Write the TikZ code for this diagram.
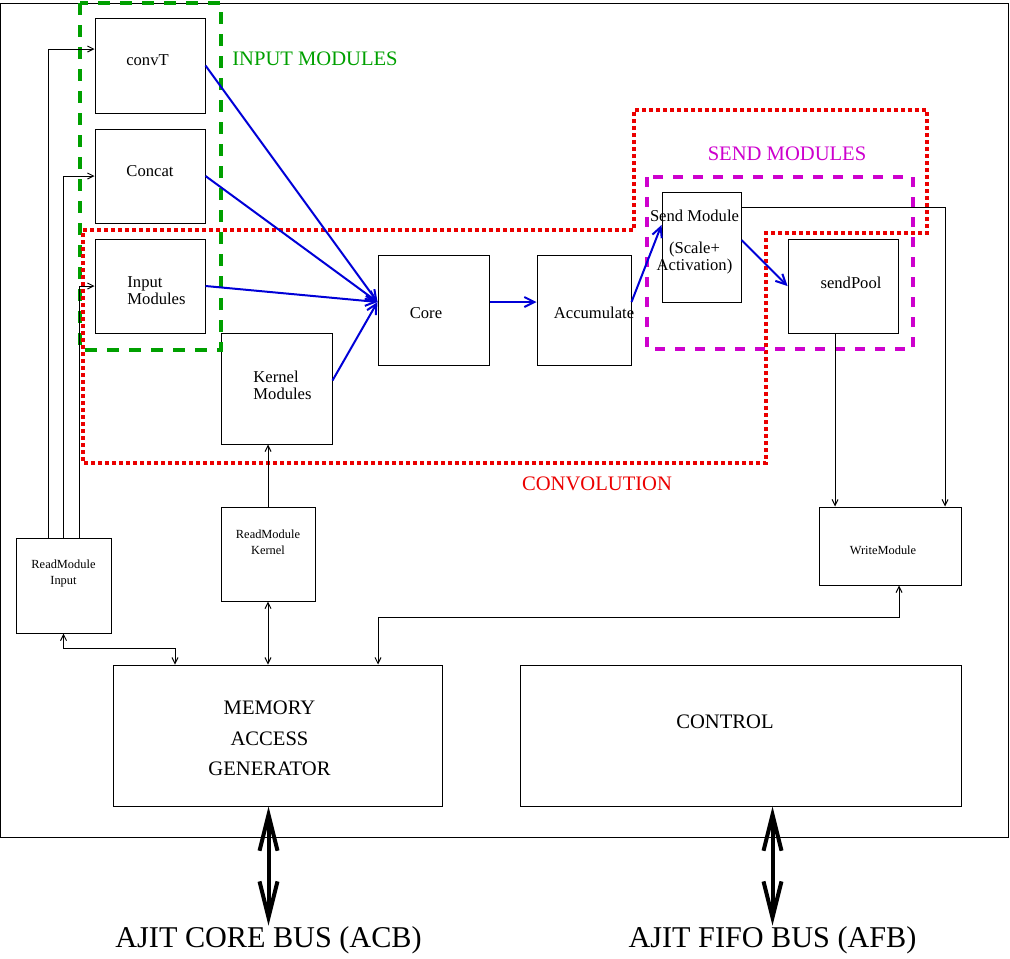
\documentclass[tikz,border=0pt]{standalone}
\usepackage{fontspec}
\setmainfont{Liberation Serif}
\usetikzlibrary{arrows.meta, calc, positioning}
\definecolor{figgreen}{RGB}{0,160,0}
\definecolor{figmag}{RGB}{205,0,205}
\definecolor{figblue}{RGB}{0,0,215}
\definecolor{figred}{RGB}{235,0,0}
\tikzset{
  blk/.style={draw, line width=0.5pt, inner sep=0pt},
  lbl/.style={inner sep=0pt, align=center, font=\fontsize{8.3}{8.5}\selectfont},
  smalllbl/.style={inner sep=0pt, align=center, font=\fontsize{6.2}{8}\selectfont},
  biglbl/.style={inner sep=0pt, align=center, font=\fontsize{10.3}{15.25}\selectfont},
  grplbl/.style={inner sep=0pt, font=\fontsize{10.3}{12}\selectfont},
  buslbl/.style={inner sep=0pt, font=\fontsize{15.1}{18}\selectfont},
  sig/.style={line width=0.5pt, -{Straight Barb[length=3pt,width=3pt]}},
  sigboth/.style={line width=0.5pt, {Straight Barb[length=3pt,width=3pt]}-{Straight Barb[length=3pt,width=3pt]}},
  flow/.style={draw=figblue, line width=1pt, -{Straight Barb[length=5pt,width=5pt]}},
  bus/.style={line width=2pt, {Straight Barb[length=18pt,width=9pt]}-{Straight Barb[length=18pt,width=9pt]}},
  grpgreen/.style={draw=figgreen, line width=2pt, dash pattern=on 6pt off 5pt},
  grpred/.style={draw=figred, line width=2pt, dash pattern=on 2pt off 1.5pt},
  grpmag/.style={draw=figmag, line width=2pt, dash pattern=on 5pt off 5pt}
}
\begin{document}
\begin{tikzpicture}[x=0.5pt,y=-0.5pt]
\useasboundingbox (0,0) rectangle (1010,958);
\draw[line width=0.5pt] (0,3) rectangle (1008,837);

\node[blk, minimum width=55pt, minimum height=47.5pt, label={[lbl,xshift=-1.25pt,yshift=2.5pt]center:convT}] (convT) at (150,65.5) {};
\node[blk, minimum width=55pt, minimum height=47pt, label={[lbl,yshift=2.5pt]center:Concat}] (concat) at (150,176) {};
\node[blk, minimum width=55pt, minimum height=47pt, label={[lbl,align=left,xshift=3.25pt,yshift=-2.25pt]center:Input\\Modules}] (inmod) at (150,286) {};
\node[blk, minimum width=55.5pt, minimum height=55.5pt, label={[lbl,align=left,xshift=3pt,yshift=1.75pt]center:Kernel\\Modules}] (kern) at (276.5,388.5) {};
\node[blk, minimum width=55.5pt, minimum height=55pt, label={[lbl,xshift=-3.75pt,yshift=-1.5pt]center:Core}] (core) at (433.5,310) {};
\node[blk, minimum width=47pt, minimum height=55pt, label={[lbl,xshift=5pt,yshift=-1.5pt]center:Accumulate}] (acc) at (584,310) {};
\node[blk, minimum width=39.5pt, minimum height=55pt, label={[lbl,xshift=-3.5pt,yshift=2.25pt]center:{Send Module\\[7.5pt](Scale+\\Activation)}}] (sendmod) at (701.5,247) {};
\node[blk, minimum width=55pt, minimum height=47pt, label={[lbl,xshift=4pt,yshift=1.5pt]center:sendPool}] (spool) at (843,286) {};
\node[blk, minimum width=47.5pt, minimum height=47.5pt, label={[smalllbl,yshift=5.75pt]center:ReadModule\\Input}] (rmin) at (63.5,585.5) {};
\node[blk, minimum width=47pt, minimum height=47pt, label={[smalllbl,yshift=5.75pt]center:ReadModule\\Kernel}] (rkern) at (268,554) {};
\node[blk, minimum width=71pt, minimum height=39pt, label={[smalllbl,xshift=-3.5pt,yshift=-2pt]center:WriteModule}] (wmod) at (890,546) {};
\node[blk, minimum width=164.5pt, minimum height=70.5pt, label={[biglbl,xshift=-4pt,yshift=-1.5pt]center:MEMORY\\ACCESS\\GENERATOR}] (mag) at (277.5,735.5) {};
\node[blk, minimum width=220.5pt, minimum height=70.5pt, label={[biglbl,xshift=-7.75pt,yshift=6.75pt]center:CONTROL}] (ctrl) at (740.5,735.5) {};

\draw[grpgreen] (80,3) rectangle (221,350);
\draw[grpred] (83,230) -- (634,230) -- (634,110) -- (927,110) -- (927,233) -- (766,233) -- (766,463) -- (83,463) -- cycle;
\draw[grpmag] (647,177) rectangle (913,349);
\node[grplbl, text=figgreen] (inlbl) at (315,59) {INPUT MODULES};
\node[grplbl, text=figmag] (sendlbl) at (787,154) {SEND MODULES};
\node[grplbl, text=figred] (convlbl) at (597,484) {CONVOLUTION};

\draw[sig] ($(rmin.north)+(-15.5,0)$) |- ($(convT.west)+(0,-16.5)$);
\draw[sig] (rmin.north) |- (concat.west);
\draw[sig] ($(rmin.north)+(15.5,0)$) |- (inmod.west);
\draw[sig] (rkern.north) -- (rkern.north |- kern.south);
\draw[sigboth] (rkern.south) -- (rkern.south |- mag.north);
\draw[sigboth] (rmin.south) |- ($(mag.north)+(-102.5,-16)$) -- ($(mag.north)+(-102.5,0)$);
\draw[sigboth] ($(mag.north)+(100.5,0)$) |- ($(wmod.south)+(9,32)$) -- ($(wmod.south)+(9,0)$);
\coordinate (pooldn) at ($(spool.south)+(-8,0)$);
\draw[sig] (pooldn) -- (pooldn |- wmod.north);
\draw[sig] ($(sendmod.east)+(0,-40)$) -| ($(wmod.north)+(55,0)$);

\coordinate (corein) at ($(core.west)+(0,-8)$);
\draw[flow] (convT.east) -- (corein);
\draw[flow] (concat.east) -- (corein);
\draw[flow] (inmod.east) -- (corein);
\draw[flow] ($(kern.east)+(0,-8)$) -- (corein);
\draw[flow] (corein -| core.east) -- (corein -| acc.west);
\draw[flow] ($(acc.east)+(0,-8)$) -- ($(sendmod.west)+(0,-22)$);
\draw[flow] ($(sendmod.east)+(0,-7)$) -- (spool.west);

\node[buslbl, anchor=base] (acb) at (268.5,947) {AJIT CORE BUS (ACB)};
\node[buslbl, anchor=base] (afb) at (772.5,947) {AJIT FIFO BUS (AFB)};
\draw[bus] (acb.north |- mag.south) -- (acb.north);
\draw[bus] (afb.north |- ctrl.south) -- (afb.north);
\end{tikzpicture}
\end{document}
